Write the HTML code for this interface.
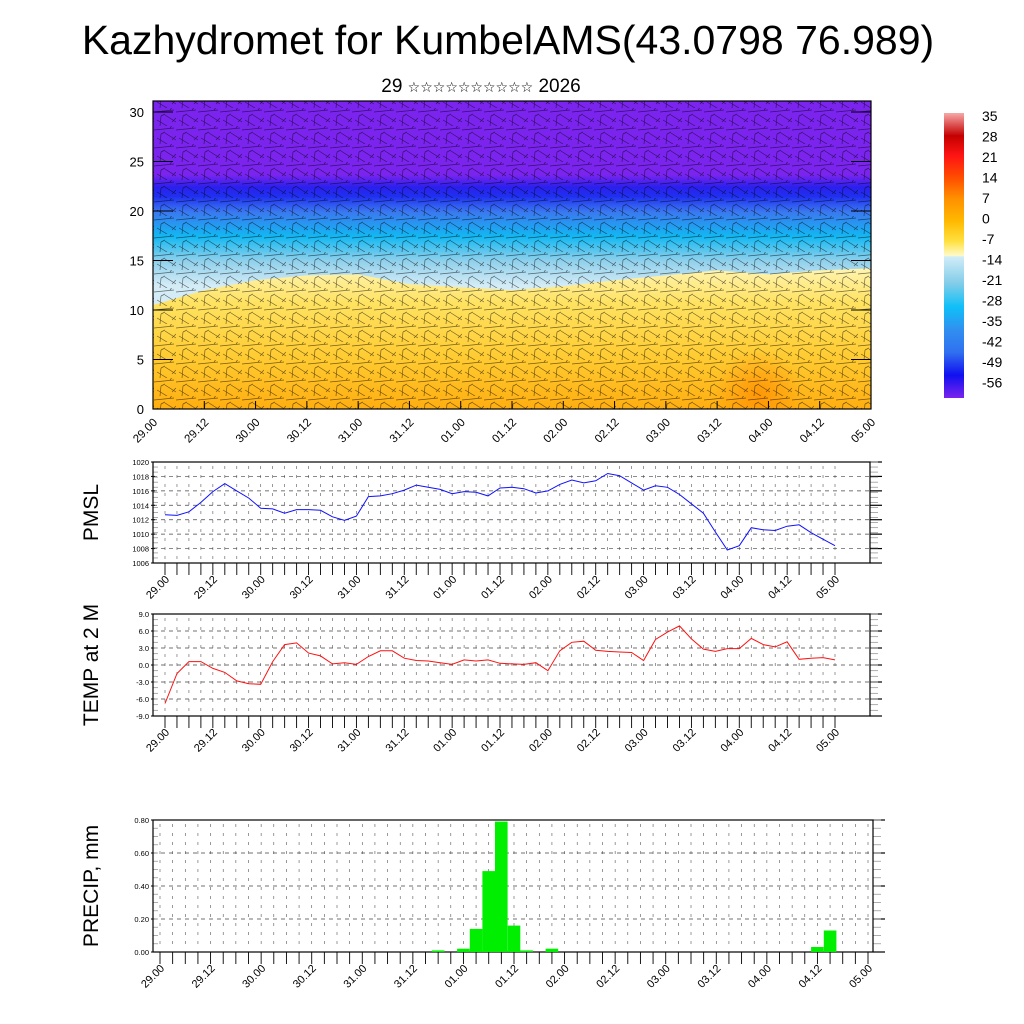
<!DOCTYPE html>
<html><head><meta charset="utf-8"><style>
html,body{margin:0;padding:0;background:#fff;}
svg{display:block;font-family:"Liberation Sans",sans-serif;}
</style></head><body>
<svg id="chart" width="1024" height="1024" viewBox="0 0 1024 1024" xmlns="http://www.w3.org/2000/svg">
<defs>
<clipPath id="topclip"><rect x="153" y="101" width="718" height="308"/></clipPath>
<linearGradient id="vgrad" x1="0" y1="0" x2="0" y2="1">
<stop offset="0" stop-color="#7a24ee"/><stop offset="0.24" stop-color="#7a24ee"/>
<stop offset="0.28" stop-color="#2a20ee"/><stop offset="0.31" stop-color="#2030f0"/>
<stop offset="0.36" stop-color="#3b78f0"/><stop offset="0.44" stop-color="#12b8f2"/>
<stop offset="0.52" stop-color="#90d0ec"/><stop offset="0.6" stop-color="#d4ecf6"/>
<stop offset="1" stop-color="#d4ecf6"/></linearGradient>
<linearGradient id="ygrad" x1="0" y1="0" x2="0" y2="1">
<stop offset="0" stop-color="#fff4b0"/><stop offset="0.25" stop-color="#ffe260"/>
<stop offset="0.65" stop-color="#ffca30"/><stop offset="1" stop-color="#ffae10"/></linearGradient>
<radialGradient id="ospot" cx="0.5" cy="0.5" r="0.5">
<stop offset="0" stop-color="#ff8c00" stop-opacity="0.75"/><stop offset="1" stop-color="#ff8c00" stop-opacity="0"/></radialGradient>
<linearGradient id="cbgrad" x1="0" y1="0" x2="0" y2="1">
<stop offset="0" stop-color="#f6a8a8"/><stop offset="0.08" stop-color="#c40000"/>
<stop offset="0.15" stop-color="#ff1414"/><stop offset="0.23" stop-color="#ff5000"/>
<stop offset="0.3" stop-color="#ff9000"/><stop offset="0.38" stop-color="#ffba00"/>
<stop offset="0.45" stop-color="#ffe040"/><stop offset="0.5" stop-color="#fffac8"/>
<stop offset="0.505" stop-color="#d0ecf8"/><stop offset="0.6" stop-color="#80cce8"/>
<stop offset="0.68" stop-color="#10c0f8"/><stop offset="0.76" stop-color="#3090f0"/>
<stop offset="0.84" stop-color="#3070f0"/><stop offset="0.92" stop-color="#1010f0"/>
<stop offset="1" stop-color="#7a24ee"/></linearGradient>
<pattern id="barbs" width="22" height="18" patternUnits="userSpaceOnUse">
<g stroke="#000" stroke-width="0.7" fill="none">
<path d="M0 4 L20 2 M16 2 L19 -2 M3 12 L13 18 M11 7 L22 14 M18 14 L22 10 M6 18 L7 8 M7 8 L11 6"/>
</g></pattern>
</defs>
<g id="root"></g>
</svg>
<script>
const categories = ["29.00","29.12","30.00","30.12","31.00","31.12","01.00","01.12","02.00","02.12","03.00","03.12","04.00","04.12","05.00"];
const pmslValues = [1012.7,1012.6,1013.1,1014.4,1015.9,1017.0,1016.0,1015.0,1013.6,1013.5,1012.9,1013.4,1013.4,1013.3,1012.4,1011.9,1012.5,1015.2,1015.3,1015.6,1016.1,1016.8,1016.5,1016.2,1015.6,1015.9,1015.8,1015.3,1016.4,1016.5,1016.3,1015.7,1016.0,1016.9,1017.5,1017.1,1017.4,1018.4,1018.1,1017.1,1016.1,1016.7,1016.5,1015.5,1014.2,1012.9,1010.3,1007.8,1008.4,1010.9,1010.6,1010.5,1011.1,1011.3,1010.2,1009.3,1008.4];
const tempValues = [-6.8,-1.5,0.6,0.6,-0.6,-1.3,-2.8,-3.3,-3.4,0.6,3.6,3.9,2.1,1.6,0.2,0.4,0.1,1.5,2.5,2.5,1.2,0.8,0.7,0.4,0.1,0.9,0.7,0.9,0.3,0.2,0.1,0.4,-1.0,2.5,4.0,4.2,2.6,2.4,2.3,2.2,0.8,4.5,5.8,6.9,4.6,2.8,2.4,2.9,2.9,4.7,3.6,3.2,4.1,1.0,1.2,1.3,0.9];
const precipIndex = [22,24,25,26,27,28,29,31,52,53];
const precipValues = [0.01,0.02,0.14,0.49,0.79,0.16,0.01,0.02,0.03,0.13];
const pmslTicks = [1006,1008,1010,1012,1014,1016,1018,1020];
const tempTicks = ["-9.0","-6.0","-3.0","0.0","3.0","6.0","9.0"];
const precipTicks = ["0.00","0.20","0.40","0.60","0.80"];
const heightTicks = [0,5,10,15,20,25,30];
const cbLabels = ["35","28","21","14","7","0","-7","-14","-21","-28","-35","-42","-49","-56"];
const boundary = [10.5,12.0,13.0,13.5,13.6,12.6,12.3,12.0,12.4,13.0,13.5,14.0,13.6,14.0,14.2];

const NS="http://www.w3.org/2000/svg";
const root=document.getElementById('root');
function el(t,a,p){const e=document.createElementNS(NS,t);for(const k in a)e.setAttribute(k,a[k]);(p||root).appendChild(e);return e;}
function txt(s,a,p){const e=el('text',a,p);e.textContent=s;return e;}

let t=txt("Kazhydromet for KumbelAMS(43.0798 76.989)",{x:508,y:54,'font-size':41,'text-anchor':'middle'});


t=el('text',{x:481,y:92,'font-size':19,'text-anchor':'middle','font-family':'"Liberation Sans","DejaVu Sans",sans-serif'});


const ts1=el('tspan',{},t); ts1.textContent="29 ";
const ts2=el('tspan',{'font-size':14},t); ts2.textContent="☆☆☆☆☆☆☆☆☆☆";
const ts3=el('tspan',{},t); ts3.textContent=" 2026";

const TX0=153,TX1=871,TY0=101,TY1=409;
const hy=v=>409-v*9.9;
const tx=i=>TX0+i*(TX1-TX0)/14;
const topPanel=el('g',{});


const inner=el('g',{'clip-path':'url(#topclip)'},topPanel);
el('rect',{x:TX0,y:TY0,width:TX1-TX0,height:TY1-TY0,fill:'url(#vgrad)'},inner);
let d='M'+TX0+' '+TY1;
boundary.forEach((b,i)=>{d+=' L'+tx(i).toFixed(1)+' '+hy(b).toFixed(1);});
d+=' L'+TX1+' '+TY1+' Z';
let warm=el('path',{d:d,fill:'url(#ygrad)'},inner);


el('ellipse',{cx:tx(11.8),cy:hy(1.5),rx:45,ry:45,fill:'url(#ospot)'},inner);
el('rect',{x:TX0,y:TY0,width:TX1-TX0,height:TY1-TY0,fill:'url(#barbs)',opacity:0.55},inner);
el('rect',{x:TX0,y:TY0,width:TX1-TX0,height:TY1-TY0,fill:'none',stroke:'#000','stroke-width':1.2},topPanel);
heightTicks.forEach(v=>{
  const y=hy(v);
  el('line',{x1:TX0,x2:TX0+20,y1:y,y2:y,stroke:'#000','stroke-width':1},topPanel);
  el('line',{x1:TX1-20,x2:TX1,y1:y,y2:y,stroke:'#000','stroke-width':1},topPanel);
  const l=txt(String(v),{x:144,y:y+5,'font-size':13,'text-anchor':'end'},topPanel);
  
  
});
categories.forEach((c,i)=>{
  const x=tx(i);
  el('line',{x1:x,x2:x,y1:TY1,y2:TY1-8,stroke:'#000'},topPanel);
  const l=txt(c,{x:0,y:0,'font-size':11.5,'text-anchor':'end',transform:`translate(${x+5},${TY1+14}) rotate(-45)`},topPanel);
  
  
});

const cb=el('g',{});


el('rect',{x:944,y:113,width:20,height:285,fill:'url(#cbgrad)'},cb);
cbLabels.forEach((s,i)=>{
  const l=txt(s,{x:982,y:121+i*20.5,'font-size':14},cb);
  
  
});

function panel(o){
  const g=el('g',{});
  
  
  const {x0,x1,y0,y1,ix0,ix1,vmin,vmax}=o;
  const sx=i=>ix0+i*(ix1-ix0)/56;
  const sy=v=>y1-(v-vmin)/(vmax-vmin)*(y1-y0);
  el('rect',{x:x0,y:y0,width:x1-x0,height:y1-y0,fill:'#fff'},g);
  for(let i=0;i<=56;i++){
    const x=sx(i);
    el('line',{x1:x,x2:x,y1:y0+4,y2:y1-2,stroke:'#555','stroke-width':0.6,'stroke-dasharray':'3,6'},g);
    el('line',{x1:x,x2:x,y1:y1,y2:y1+12,stroke:'#000','stroke-width':0.9},g);
  }
  o.ticks.forEach(tk=>{
    const v=parseFloat(tk),y=sy(v);
    el('line',{x1:x0,x2:x1,y1:y,y2:y,stroke:'#444','stroke-width':0.7,'stroke-dasharray':'4,4'},g);
    el('line',{x1:x1,x2:x1+12,y1:y,y2:y,stroke:'#000','stroke-width':1.2},g);
    el('line',{x1:x0-2,x2:x0+2,y1:y,y2:y,stroke:'#000','stroke-width':1},g);
    const l=txt(String(tk),{x:x0-4,y:y+3,'font-size':o.tfs||7.5,'text-anchor':'end'},g);
    
    
  });
  const nm=o.minor;
  for(let k=0;k<nm;k++){
    const y=y0+(y1-y0)*k/nm;
    el('line',{x1:x1,x2:x1+8,y1:y,y2:y,stroke:'#999','stroke-width':0.8},g);
    el('line',{x1:x0,x2:x0+5,y1:y,y2:y,stroke:'#999','stroke-width':0.8},g);
  }
  el('rect',{x:x0,y:y0,width:x1-x0,height:y1-y0,fill:'none',stroke:'#000','stroke-width':1.2},g);
  categories.forEach((c,i)=>{
    const x=sx(i*4);
    const l=txt(c,{x:0,y:0,'font-size':11,'text-anchor':'end',transform:`translate(${x+5},${y1+17}) rotate(-45)`},g);
    
    
  });
  const yt=txt(o.title,{x:0,y:0,'font-size':21,'text-anchor':'middle',transform:`translate(98,${(y0+y1)/2}) rotate(-90)`},g);
  
  
  return {g,sx,sy};
}

let p=panel({name:'pmsl-panel',title:'PMSL',x0:153,x1:870,y0:462,y1:563,ix0:165,ix1:835,vmin:1006,vmax:1020,ticks:pmslTicks,minor:20});
let pts=pmslValues.map((v,i)=>p.sx(i).toFixed(1)+','+p.sy(v).toFixed(1)).join(' ');
let line=el('polyline',{points:pts,fill:'none',stroke:'#1010ff','stroke-width':1},p.g);



p=panel({name:'temperature-panel',title:'TEMP at 2 M',x0:153,x1:870,y0:614,y1:716,ix0:165,ix1:835,vmin:-9,vmax:9,ticks:tempTicks,minor:18});
pts=tempValues.map((v,i)=>p.sx(i).toFixed(1)+','+p.sy(v).toFixed(1)).join(' ');
line=el('polyline',{points:pts,fill:'none',stroke:'#ff1010','stroke-width':1},p.g);



p=panel({name:'precip-panel',title:'PRECIP, mm',x0:153,x1:873,y0:820,y1:952,ix0:160,ix1:868,vmin:0,vmax:0.8,ticks:precipTicks,minor:16});
const bw=(868-160)/56;
precipIndex.forEach((idx,k)=>{
  const x=p.sx(idx)-bw/2,y=p.sy(precipValues[k]);
  const b=el('rect',{x:x.toFixed(1),y:y.toFixed(1),width:bw.toFixed(1),height:(952-y).toFixed(1),fill:'#00ee00'},p.g);
  
  
});
</script>
</body></html>
